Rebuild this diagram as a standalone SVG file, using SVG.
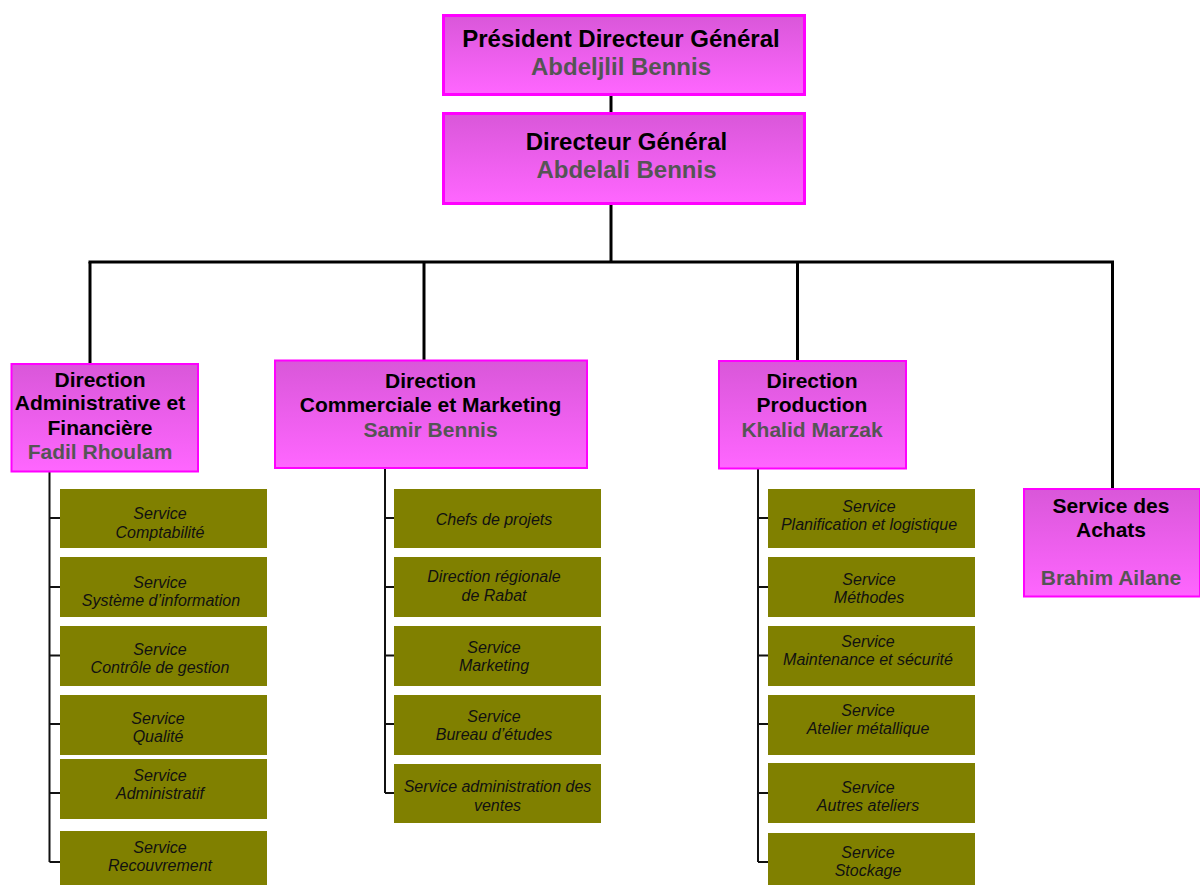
<svg xmlns="http://www.w3.org/2000/svg" width="1200" height="885" viewBox="0 0 1200 885">
<defs>
<linearGradient id="mag" x1="0" y1="0" x2="0" y2="1">
<stop offset="0" stop-color="#d957d9"/>
<stop offset="1" stop-color="#ff66ff"/>
</linearGradient>
<style>
.top{fill:url(#mag);stroke:#ff00ff;stroke-width:3}
.dir{fill:url(#mag);stroke:#ff00ff;stroke-width:2}
.svc{fill:#808000}
.t{font-family:"Liberation Sans",Arial,sans-serif;font-weight:bold;text-anchor:middle;fill:#000}
.n{font-family:"Liberation Sans",Arial,sans-serif;font-weight:bold;text-anchor:middle;fill:#555555}
.s{font-family:"Liberation Sans",Arial,sans-serif;font-style:italic;font-size:16px;text-anchor:middle;fill:#111}
.main{stroke:#000;stroke-width:3;fill:none}
.sub{stroke:#111;stroke-width:2;fill:none}
</style>
</defs>
<g id="connectors">
<line class="main" x1="611" y1="95" x2="611" y2="114"/>
<line class="main" x1="611" y1="204" x2="611" y2="262"/>
<line class="main" x1="88.5" y1="262" x2="1114" y2="262"/>
<line class="main" x1="90" y1="262" x2="90" y2="364"/>
<line class="main" x1="424" y1="262" x2="424" y2="360"/>
<line class="main" x1="797.5" y1="262" x2="797.5" y2="360"/>
<line class="main" x1="1112.5" y1="262" x2="1112.5" y2="489"/>
<path class="sub" d="M49.5 472 V862 M49.5 518 H60 M49.5 587 H60 M49.5 655.5 H60 M49.5 724 H60 M49.5 793 H60 M49.5 862 H60"/>
<path class="sub" d="M385 468 V793 M385 518 H394 M385 587 H394 M385 655.5 H394 M385 724 H394 M385 793 H394"/>
<path class="sub" d="M758 469 V862 M758 518 H768 M758 587 H768 M758 655.5 H768 M758 724 H768 M758 793 H768 M758 862 H768"/>
</g>
<g id="pdg">
<rect class="top" x="443.5" y="15.5" width="361" height="79"/>
<text class="t" x="621" y="47" font-size="24">Président Directeur Général</text>
<text class="n" x="621" y="75" font-size="24">Abdeljlil Bennis</text>
</g>
<g id="dg">
<rect class="top" x="443.5" y="113.5" width="361" height="90"/>
<text class="t" x="626.5" y="150" font-size="24">Directeur Général</text>
<text class="n" x="626.5" y="178" font-size="24">Abdelali Bennis</text>
</g>
<g id="daf">
<rect class="dir" x="11.5" y="364" width="186.5" height="107.5"/>
<text class="t" x="100" y="386.5" font-size="21">Direction</text>
<text class="t" x="100" y="410" font-size="21">Administrative et</text>
<text class="t" x="100" y="434.5" font-size="21">Financière</text>
<text class="n" x="100" y="459" font-size="21">Fadil Rhoulam</text>
</g>
<g id="dcm">
<rect class="dir" x="275" y="360.5" width="312" height="107.5"/>
<text class="t" x="430.5" y="387.5" font-size="21">Direction</text>
<text class="t" x="430.5" y="411.5" font-size="21">Commerciale et Marketing</text>
<text class="n" x="430.5" y="436.5" font-size="21">Samir Bennis</text>
</g>
<g id="dp">
<rect class="dir" x="719" y="361" width="187" height="107.5"/>
<text class="t" x="812" y="388" font-size="21">Direction</text>
<text class="t" x="812" y="411.5" font-size="21">Production</text>
<text class="n" x="812" y="436.5" font-size="21">Khalid Marzak</text>
</g>
<g id="achats">
<rect class="dir" x="1024" y="489" width="176" height="107.5"/>
<text class="t" x="1111" y="512.5" font-size="21">Service des</text>
<text class="t" x="1111" y="536.5" font-size="21">Achats</text>
<text class="n" x="1111" y="584.5" font-size="21">Brahim Ailane</text>
</g>
<g id="s-compta"><rect class="svc" x="60" y="489" width="207" height="59"/><text class="s" x="160" y="519">Service</text><text class="s" x="160" y="537.5">Comptabilité</text></g>
<g id="s-si"><rect class="svc" x="60" y="557" width="207" height="60"/><text class="s" x="160" y="588">Service</text><text class="s" x="161" y="606">Système d’information</text></g>
<g id="s-cg"><rect class="svc" x="60" y="626" width="207" height="60"/><text class="s" x="160" y="655">Service</text><text class="s" x="160" y="673">Contrôle de gestion</text></g>
<g id="s-qual"><rect class="svc" x="60" y="695" width="207" height="60"/><text class="s" x="158" y="724">Service</text><text class="s" x="158" y="742">Qualité</text></g>
<g id="s-admin"><rect class="svc" x="60" y="759" width="207" height="60"/><text class="s" x="160" y="781">Service</text><text class="s" x="160" y="799">Administratif</text></g>
<g id="s-recouv"><rect class="svc" x="60" y="831" width="207" height="60"/><text class="s" x="160" y="853">Service</text><text class="s" x="160" y="871">Recouvrement</text></g>
<g id="s-chefs"><rect class="svc" x="394" y="489" width="207" height="59"/><text class="s" x="494" y="525">Chefs de projets</text></g>
<g id="s-rabat"><rect class="svc" x="394" y="557" width="207" height="60"/><text class="s" x="494" y="582">Direction régionale</text><text class="s" x="494" y="601">de Rabat</text></g>
<g id="s-mkt"><rect class="svc" x="394" y="626" width="207" height="60"/><text class="s" x="494" y="653">Service</text><text class="s" x="494" y="671">Marketing</text></g>
<g id="s-be"><rect class="svc" x="394" y="695" width="207" height="60"/><text class="s" x="494" y="722">Service</text><text class="s" x="494" y="740">Bureau d’études</text></g>
<g id="s-adv"><rect class="svc" x="394" y="764" width="207" height="59"/><text class="s" x="497.5" y="792">Service administration des</text><text class="s" x="497.5" y="811">ventes</text></g>
<g id="s-plan"><rect class="svc" x="768" y="489" width="207" height="59"/><text class="s" x="869" y="512">Service</text><text class="s" x="869" y="530">Planification et logistique</text></g>
<g id="s-meth"><rect class="svc" x="768" y="557" width="207" height="60"/><text class="s" x="869" y="585">Service</text><text class="s" x="869" y="603">Méthodes</text></g>
<g id="s-maint"><rect class="svc" x="768" y="626" width="207" height="60"/><text class="s" x="868" y="647">Service</text><text class="s" x="868" y="665">Maintenance et sécurité</text></g>
<g id="s-atelier"><rect class="svc" x="768" y="695" width="207" height="60"/><text class="s" x="868" y="716">Service</text><text class="s" x="868" y="734">Atelier métallique</text></g>
<g id="s-autres"><rect class="svc" x="768" y="763" width="207" height="60"/><text class="s" x="868" y="793">Service</text><text class="s" x="868" y="811">Autres ateliers</text></g>
<g id="s-stock"><rect class="svc" x="768" y="833" width="207" height="60"/><text class="s" x="868" y="858">Service</text><text class="s" x="868" y="876">Stockage</text></g>
</svg>
